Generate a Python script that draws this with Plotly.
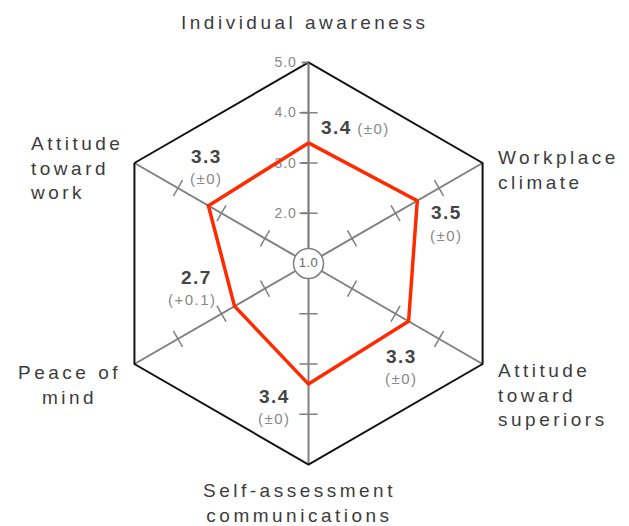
import plotly.graph_objects as go

categories = ["Individual awareness", "Workplace climate", "Attitude toward superiors",
              "Self-assessment communications", "Peace of mind", "Attitude toward work"]
cat_lines = [["Individual awareness"], ["Workplace", "climate"], ["Attitude", "toward", "superiors"],
             ["Self-assessment", "communications"], ["Peace of", "mind"], ["Attitude", "toward", "work"]]
scores = [3.4, 3.5, 3.3, 3.4, 2.7, 3.3]
deltas = ["±0", "±0", "±0", "±0", "+0.1", "±0"]
tick_vals = [2, 3, 4, 5]
tick_text = ["2.0", "3.0", "4.0", "5.0"]
center_val = 1.0

W, H = 629, 526
FONT = "Liberation Sans, Arial, sans-serif"
GRAY = "#808080"


def sp(t, ls):
    return f"<span style='letter-spacing:{ls}px'>{t}</span>"


def px(x, y):
    return x / W, 1 - y / H


fig = go.Figure()

# tick crosses on each spoke
tr, tt, ta = [], [], []
for i, c in enumerate(categories):
    for v in tick_vals[:-1]:
        tr.append(v)
        tt.append(c)
        ta.append(60 * i)
fig.add_trace(go.Scatterpolar(r=tr, theta=tt, mode="markers", hoverinfo="skip",
                              marker=dict(symbol="line-ew", size=13, angle=ta,
                                          line=dict(width=1.5, color=GRAY)),
                              showlegend=False))

# score polygon
fig.add_trace(go.Scatterpolar(r=scores + scores[:1], theta=categories + categories[:1],
                              mode="lines", line=dict(color="#ff2a00", width=3.5),
                              showlegend=False))

# centre circle (drawn a hair off the exact origin so it is not dropped)
fig.add_trace(go.Scatterpolar(r=[center_val + 1e-4], theta=[categories[0]], mode="markers+text",
                              cliponaxis=False, hoverinfo="skip",
                              text=[sp(f"{center_val:.1f}", 0.5)], textposition="middle center",
                              textfont=dict(family=FONT, size=13, color="#666"),
                              marker=dict(size=30, color="white", line=dict(width=1.5, color=GRAY)),
                              showlegend=False))

x0, x1 = px(107.5, 0)[0], px(509.5, 0)[0]
y1, y0 = px(0, 62.5)[1], px(0, 464.5)[1]

fig.update_layout(
    width=W, height=H,
    margin=dict(l=0, r=0, t=0, b=0),
    paper_bgcolor="white",
    polar=dict(
        domain=dict(x=[x0, x1], y=[y0, y1]),
        bgcolor="white",
        gridshape="linear",
        angularaxis=dict(rotation=90, direction="clockwise", showticklabels=False, ticks="",
                         linecolor="#111", linewidth=2, gridcolor=GRAY, gridwidth=1.5,
                         layer="below traces",
                         categoryorder="array", categoryarray=categories),
        radialaxis=dict(range=[1, 5], angle=90, side="counterclockwise", tickangle=90,
                        showgrid=False, showline=True, linecolor=GRAY, linewidth=1.5,
                        layer="below traces",
                        tickvals=tick_vals, ticktext=[sp(t, 1) for t in tick_text],
                        ticks="outside", ticklen=6, tickwidth=1.5, tickcolor=GRAY,
                        tickfont=dict(family=FONT, size=14, color="#888")),
    ),
)

ann = []
# category labels: (x, y, xanchor)
cat_pos = [(304, 22, "center"), (496, 170, "left"), (496, 395, "left"),
           (299, 503, "center"), (69, 385, "center"), (28, 168, "left")]
for lines, (x, y, xa) in zip(cat_lines, cat_pos):
    xx, yy = px(x, y)
    ann.append(dict(x=xx, y=yy, xref="paper", yref="paper", xanchor=xa, yanchor="middle",
                    align=xa, showarrow=False,
                    text="<br>".join(sp(l, 3.5) for l in lines),
                    font=dict(family=FONT, size=19, color="#3c3c3c")))

# value labels
val_pos = [None, (446, 213), (401, 356), (274, 396), (196, 277), (207, 157)]
for i, (v, d) in enumerate(zip(scores, deltas)):
    if i == 0:
        xx, yy = px(319, 127)
        ann.append(dict(x=xx, y=yy, xref="paper", yref="paper", xanchor="left", yanchor="middle",
                        showarrow=False,
                        text=f"<b>{sp(f'{v:.1f}', 1.5)}</b> <span style='font-size:15px;fill:#888;letter-spacing:1.5px'>({d})</span>",
                        font=dict(family=FONT, size=19, color="#444")))
        continue
    x, y = val_pos[i]
    xx, yy = px(x, y)
    ann.append(dict(x=xx, y=yy, xref="paper", yref="paper", xanchor="center", yanchor="middle",
                    showarrow=False, text=f"<b>{sp(f'{v:.1f}', 1.5)}</b>",
                    font=dict(family=FONT, size=19, color="#444")))
    xx, yy = px(x - (4 if d.startswith('+') else 0), y + 22)
    ann.append(dict(x=xx, y=yy, xref="paper", yref="paper", xanchor="center", yanchor="middle",
                    showarrow=False, text=sp(f"({d})", 1.5),
                    font=dict(family=FONT, size=15, color="#888")))

fig.update_layout(annotations=ann)
fig.write_html("out.html", config={"displayModeBar": False},
               post_script="document.body.style.margin='0px';")
